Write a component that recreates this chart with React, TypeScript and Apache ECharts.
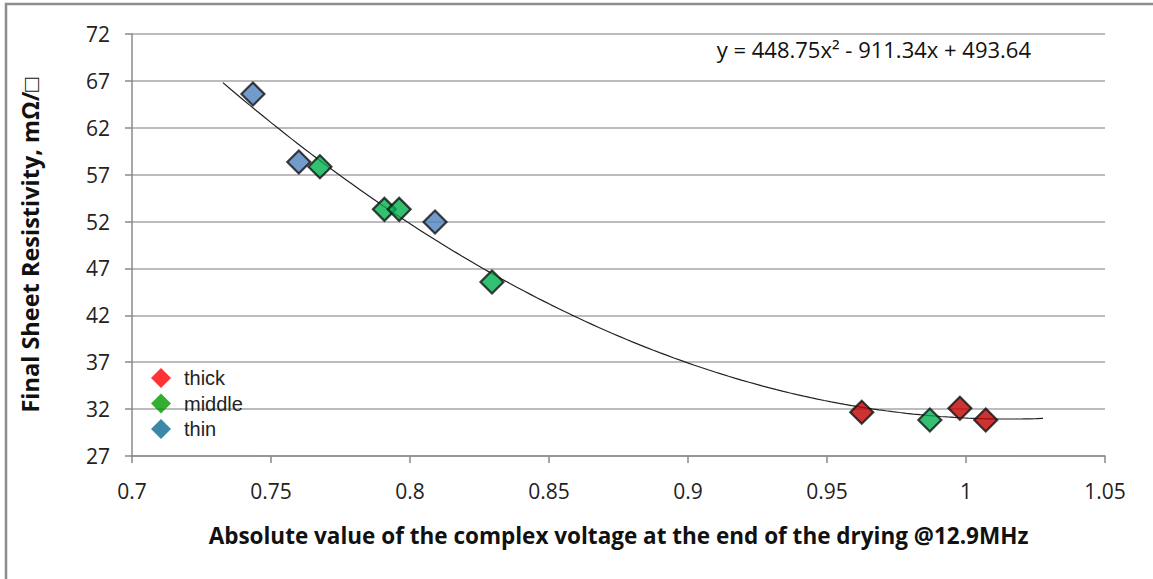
import React, { useEffect, useRef } from "react";
import * as echarts from "echarts";

// Measured samples: [|V| at end of drying, final sheet resistivity]
const thickPoints: [number, number][] = [
  [0.9625, 31.66],
  [0.9978, 32.09],
  [1.0071, 30.84],
];
const middlePoints: [number, number][] = [
  [0.7676, 57.85],
  [0.7908, 53.3],
  [0.7961, 53.3],
  [0.8295, 45.56],
  [0.987, 30.84],
];
const thinPoints: [number, number][] = [
  [0.7435, 65.6],
  [0.76, 58.35],
  [0.809, 51.95],
];

// Polynomial trendline (order 2) and the x span it is drawn over
const fitA = 448.75;
const fitB = -911.34;
const fitC = 493.64;
const fitStart = 0.7327;
const fitEnd = 1.0277;
const fitLabel = "y = 448.75x\u00B2 - 911.34x + 493.64";

const seriesNames = ["thick", "middle", "thin"];
const markerColors = ["#C00000", "#00B050", "#4F81BD"];
const legendColors = ["#FF0000", "#009A00", "#0B6A94"];

const xTitle = "Absolute value of the complex voltage at the end of the drying @12.9MHz";
const yTitle = "Final Sheet Resistivity, m\u03A9/\u25A1";

function trendPoints(): [number, number][] {
  const pts: [number, number][] = [];
  const steps = 120;
  for (let i = 0; i <= steps; i++) {
    const x = fitStart + ((fitEnd - fitStart) * i) / steps;
    pts.push([x, fitA * x * x + fitB * x + fitC]);
  }
  return pts;
}

export default function App() {
  const ref = useRef<HTMLDivElement>(null);

  useEffect(() => {
    if (!ref.current) return;
    const chart = echarts.init(ref.current, undefined, { renderer: "svg" });
    const labelFont = "'Open Sans', 'Liberation Sans', sans-serif";
    const scatter = (name: string, data: [number, number][], color: string) => ({
      name,
      type: "scatter",
      data,
      symbol: "diamond",
      symbolSize: 23,
      itemStyle: { color, borderColor: "#111", borderWidth: 2.2 },
      z: 3,
    });

    chart.setOption({
      animation: false,
      backgroundColor: "#fff",
      grid: { left: 132, top: 34, right: 48, bottom: 123 },
      xAxis: {
        type: "value",
        min: 0.7,
        max: 1.05,
        interval: 0.05,
        axisLine: { lineStyle: { color: "#8a8a8a", width: 1.5 } },
        axisTick: { show: true, length: 7, lineStyle: { color: "#8a8a8a", width: 1.5 } },
        splitLine: { show: false },
        axisLabel: { color: "#222", fontFamily: labelFont, fontSize: 21, margin: 24 },
        name: xTitle,
        nameLocation: "middle",
        nameGap: 68,
        nameTextStyle: { color: "#111", fontFamily: labelFont, fontWeight: "bold", fontSize: 22.5 },
      },
      yAxis: {
        type: "value",
        min: 27,
        max: 72,
        interval: 5,
        axisLine: { show: true, lineStyle: { color: "#8a8a8a", width: 1.5 } },
        axisTick: { show: true, length: 7, lineStyle: { color: "#8a8a8a", width: 1.5 } },
        splitLine: { show: true, lineStyle: { color: "#a6a6a6", width: 1.5 } },
        axisLabel: { color: "#222", fontFamily: labelFont, fontSize: 21, margin: 22 },
        name: yTitle,
        nameLocation: "middle",
        nameGap: 90,
        nameTextStyle: { color: "#111", fontFamily: labelFont, fontWeight: "bold", fontSize: 23.5 },
      },
      legend: {
        orient: "vertical",
        left: 146,
        top: 363,
        itemWidth: 20,
        itemHeight: 20,
        itemGap: 5.5,
        icon: "diamond",
        textStyle: {
          color: "#222",
          fontFamily: "'Liberation Sans', Arial, sans-serif",
          fontSize: 20,
          padding: [0, 0, 0, 8],
        },
        data: seriesNames.map((n, i) => ({
          name: n,
          itemStyle: { color: legendColors[i], borderWidth: 0 },
        })),
      },
      graphic: [
        {
          type: "rect",
          shape: { x: 6, y: 4, width: 1200, height: 700 },
          style: { fill: "none", stroke: "#8c8c8c", lineWidth: 2.5 },
          silent: true,
        },
        {
          type: "text",
          right: 122,
          top: 38,
          style: { text: fitLabel, fill: "#111", font: `22px ${labelFont}` },
        },
      ],
      series: [
        {
          name: "fit",
          type: "line",
          data: trendPoints(),
          showSymbol: false,
          symbol: "none",
          lineStyle: { color: "#222", width: 1.2 },
          z: 2,
          silent: true,
        },
        scatter(seriesNames[0], thickPoints, markerColors[0]),
        scatter(seriesNames[1], middlePoints, markerColors[1]),
        scatter(seriesNames[2], thinPoints, markerColors[2]),
      ],
    });
    return () => chart.dispose();
  }, []);

  return (
    <div
      ref={ref}
      style={{ position: "fixed", left: 0, top: 0, width: 1153, height: 579 }}
    />
  );
}
